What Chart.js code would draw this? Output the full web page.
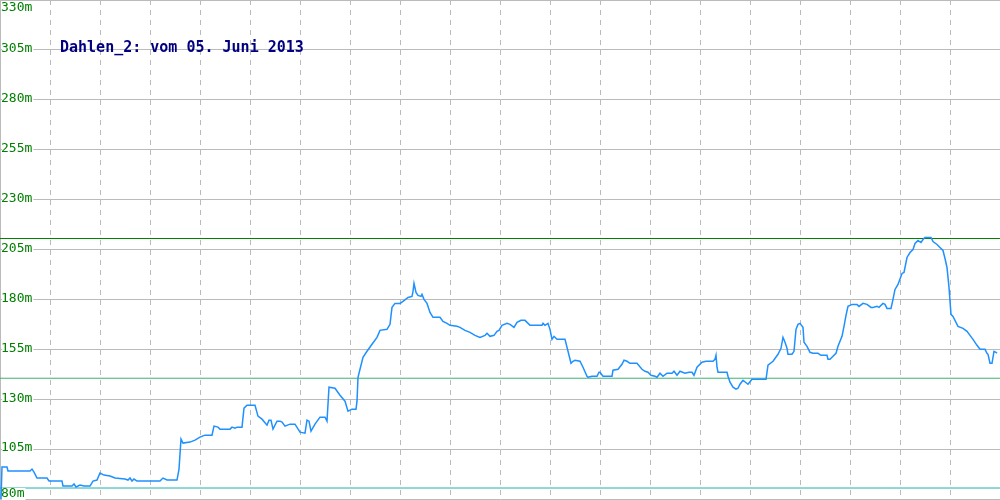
<!DOCTYPE html>
<html>
<head>
<meta charset="utf-8">
<title>Dahlen_2</title>
<script src="https://cdn.jsdelivr.net/npm/chart.js@4/dist/chart.umd.min.js"></script>
<style>
  html, body { margin: 0; padding: 0; background: #fff; }
  #wrap { width: 1000px; height: 500px; }
</style>
</head>
<body>
<div id="wrap"><canvas id="chart" width="1000" height="500"></canvas></div>
<script>
// Pegel Dahlen_2, Tagesverlauf (x = Position im Tag, 0..1000)
const positions = [
  1, 2, 7, 8, 30, 32, 34, 37, 47, 49, 62, 63, 72, 74, 76, 80, 84, 90, 93, 97,
  100, 104, 110, 115, 125, 128, 130, 132, 134, 137, 160, 163, 167, 177, 179, 181, 183, 190, 195, 200,
  205, 212, 214, 218, 220, 230, 232, 235, 237, 242, 244, 247, 255, 258, 262, 267, 269, 271, 273, 277,
  280, 282, 285, 290, 295, 300, 305, 307, 309, 311, 315, 320, 325, 327, 329, 335, 340, 345, 348, 352,
  356, 357, 358, 360, 363, 367, 372, 377, 380, 387, 390, 392, 395, 400,
  403, 408, 412, 413, 414, 416, 418, 421, 422, 424, 427, 430, 433, 440, 443, 447, 450, 457, 460, 465,
  470, 475, 480, 485, 487, 490, 494, 497, 499, 502, 507, 510, 514, 517, 521, 525, 530, 542, 543, 545,
  548, 550, 552, 554, 557, 565, 568, 571, 573, 575, 580, 583, 587, 588, 592, 595, 597, 599,
  600, 603, 612, 613, 618, 622, 624, 627, 630, 637, 642, 645, 648, 651, 655, 657, 660, 663, 667, 672,
  674, 677, 680, 685, 689, 692, 694, 697, 702, 706, 713, 715, 716, 717, 718, 727, 728, 730, 733, 736,
  738, 740, 743, 748, 752, 766, 768, 773, 778, 781, 783, 785, 787, 788, 792, 794, 796, 798,
  800, 803, 804, 807, 810, 813, 818, 821, 827, 828, 830, 833, 836, 838, 842, 844, 846, 848, 852, 857,
  859, 863, 867, 871, 873, 877, 879, 883, 885, 887, 891, 893, 895, 898, 902, 904, 907, 910, 913, 915,
  918, 921, 923, 925, 931, 933, 937, 940, 943, 945, 947, 949, 951, 953, 957, 958, 963, 967, 970, 973,
  977, 980, 985, 987, 988, 990, 992, 994, 996, 997
];

// Hoehe in m
const heights = [
  80, 96, 96, 94, 94, 95, 93.5, 90.5, 90.5, 89, 89, 86.5, 86.5, 87.5, 86, 87, 86.5, 86.5, 89, 89.5,
  93, 92, 91.5, 90.5, 90, 89.5, 90.5, 89, 90, 89, 89, 90.5, 89.5, 89.5, 95, 110, 108, 108.5, 109.5, 111,
  112, 112, 116.5, 116, 115, 115, 116, 115.5, 116, 116, 125.5, 127, 127, 121.5, 120, 117, 119.5, 119.5, 115, 119,
  119, 118.5, 116.5, 117.5, 117.5, 113.5, 113, 119.5, 119, 114, 117.5, 121, 121, 119, 136, 135.5, 132, 129, 124, 125,
  125, 129, 141, 145, 151, 154, 157.5, 161, 164.5, 165, 167.5, 176, 178, 178,
  179, 181, 181.5, 184, 188, 183.5, 182, 181.5, 182.5, 180, 178, 173.5, 171, 171, 169, 168, 167, 166.5, 166, 164.5,
  163.5, 162, 161, 162, 163, 161.5, 162, 164, 164.5, 167, 168, 167.5, 166, 168.5, 169.5, 169.5, 167, 167, 168, 167,
  168, 165, 160, 161.5, 160, 160, 154, 148, 149, 149.5, 149, 146, 141.5, 141, 141.5, 141.5, 141.5, 143.5,
  143.5, 141.5, 141.5, 144.5, 145, 147.5, 149.5, 149, 148, 148, 145, 144, 143.5, 142, 141.5, 141, 143, 141.5, 143, 143,
  144, 142, 144, 143, 143.5, 143.5, 142, 146, 148.5, 149, 149, 150, 152, 146, 143.5, 143.5, 141.5, 138.5, 136, 135,
  135.5, 137.5, 139.5, 137.5, 140, 140, 147, 149, 152.5, 155.5, 161, 158.5, 155.5, 152.5, 152.5, 154, 165, 167.5,
  168, 166, 158.5, 156.5, 153.5, 153, 153, 152, 152, 150, 150, 151.5, 153, 156.5, 161.5, 166.5, 172, 176.5, 177.5, 177.5,
  176.5, 178, 177.5, 176, 176, 176.5, 176, 178, 177.5, 175.5, 175.5, 180, 185, 187.5, 193, 193.5, 201, 203.5, 205, 208,
  209.5, 208.5, 210, 211, 211, 209, 207.5, 206, 204.5, 200.5, 196, 186, 172.5, 171.5, 167.5, 166.5, 165.5, 164, 162, 160,
  157, 155, 155, 153, 152.5, 148, 148, 154, 153.5, 153
];

// Grenzlinien in m
const limits = [210.5, 140.5, 85.5];
const limitColors = ["#008000", "#3cb371", "#20b2aa"];

const title = "Dahlen_2: vom 05. Juni 2013";

const series = positions.map((x, i) => ({ x: x, y: heights[i] }));

const limitSets = limits.map((v, i) => ({
  data: [{ x: 0, y: v }, { x: 1000, y: v }],
  borderColor: limitColors[i],
  borderWidth: 1,
  pointRadius: 0,
  order: 2,
}));

// y-Beschriftung innen links, mit weissem Hintergrund
const yLabels = {
  id: "yLabels",
  afterDraw(chart) {
    const ctx = chart.ctx;
    const scale = chart.scales.y;
    ctx.save();
    ctx.font = "13px 'DejaVu Sans Mono'";
    ctx.textBaseline = "middle";
    ctx.textAlign = "left";
    scale.ticks.forEach((t) => {
      const label = t.value + "m";
      let y = scale.getPixelForValue(t.value) - 1;
      y = Math.min(Math.max(y, 8), 494);
      const w = ctx.measureText(label).width;
      ctx.fillStyle = "#ffffff";
      ctx.fillRect(2, y - 6, w, 12);
      ctx.fillStyle = "#008000";
      ctx.fillText(label, 1, y);
    });
    ctx.restore();
  },
};

const titleText = {
  id: "titleText",
  afterDraw(chart) {
    const ctx = chart.ctx;
    ctx.save();
    ctx.font = "bold 15px 'DejaVu Sans Mono'";
    ctx.fillStyle = "#000080";
    ctx.textBaseline = "middle";
    ctx.fillText(title, 60, 48);
    ctx.restore();
  },
};

new Chart(document.getElementById("chart"), {
  type: "line",
  data: {
    datasets: [
      {
        data: series,
        borderColor: "#1e90ff",
        borderWidth: 1.5,
        pointRadius: 0,
        tension: 0,
        order: 1,
      },
      ...limitSets,
    ],
  },
  options: {
    responsive: false,
    animation: false,
    devicePixelRatio: 1,
    layout: { padding: { left: 0, right: 0, top: 0, bottom: 1 } },
    plugins: {
      legend: { display: false },
      tooltip: { enabled: false },
    },
    scales: {
      x: {
        type: "linear",
        min: 0,
        max: 1000,
        ticks: { display: false, stepSize: 50 },
        grid: {
          drawTicks: false,
          color: (c) => (c.tick && (c.tick.value === 0 || c.tick.value === 1000) ? "rgba(0,0,0,0)" : "#bbbbbb"),
          borderDash: [5, 5],
        },
        border: { display: false, dash: [5, 5] },
      },
      y: {
        min: 80,
        max: 330,
        ticks: { display: false, stepSize: 25 },
        grid: { drawTicks: false, color: "#bbbbbb" },
        border: { display: true, color: "#bbbbbb", width: 2 },
      },
    },
  },
  plugins: [yLabels, titleText],
});
</script>
</body>
</html>
